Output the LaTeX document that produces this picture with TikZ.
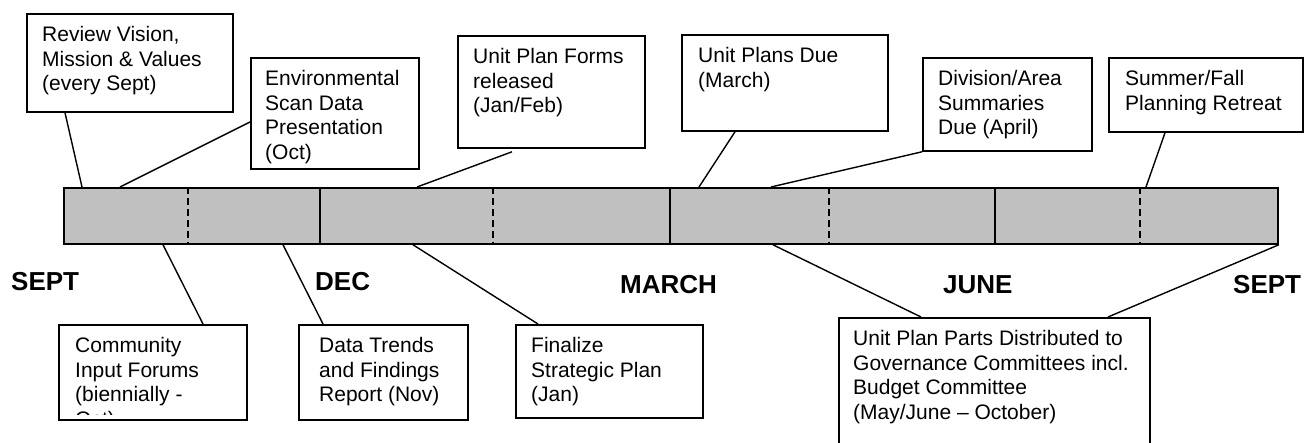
\documentclass[tikz,border=0pt]{standalone}
\usepackage{fontspec}
\setmainfont{Liberation Sans}
\definecolor{barfill}{RGB}{192,192,192}

\begin{document}
\begin{tikzpicture}[
    x=1pt, y=-1pt,
    evbox/.style={rectangle, draw, line width=1.8pt, fill=white, anchor=north west, inner sep=0pt},
    evtext/.style={anchor=north west, align=left, inner sep=0pt, xshift=16pt, yshift=-12.9pt,
                   font=\fontsize{21}{24.8}\selectfont},
    month/.style={anchor=base west, inner sep=0pt, font=\fontsize{26}{30}\selectfont\bfseries},
    timebar/.style={rectangle, draw, line width=1.8pt, fill=barfill, anchor=north west, inner sep=0pt},
    link/.style={line width=1.4pt}
]
\fill[white] (0,0) rectangle (1304,443);
\useasboundingbox (0,0) rectangle (1304,443);

% the year bar
\node[timebar, minimum width=1214, minimum height=56] (bar) at (63,187) {};
\foreach \d in {257,607,932}
  \draw[link] ([xshift=\d pt]bar.north west) -- ([xshift=\d pt]bar.south west);
\foreach \d in {125,430,766,1077}
  \draw[link, dash pattern=on 7pt off 4pt] ([xshift=\d pt]bar.north west) -- ([xshift=\d pt]bar.south west);

% months
\node[month] (sept) at (11,290.5) {SEPT};
\node[month] (dec) at (315,290.5) {DEC};
\node[month] (march) at (620,294) {MARCH};
\node[month] (june) at (943,294) {JUNE};
\node[month] (septend) at (1233,294) {SEPT};

% boxes above the bar
\node[evbox, minimum width=206, minimum height=98] (vision) at (26,13) {};
\node[evtext] (visiontxt) at (vision.north west) {Review Vision,\\Mission \& Values\\(every Sept)};

\node[evbox, minimum width=168, minimum height=111] (envscan) at (250,57) {};
\node[evtext, xshift=-1pt] (envscantxt) at (envscan.north west) {Environmental\\Scan Data\\Presentation\\(Oct)};

\node[evbox, minimum width=187, minimum height=112] (forms) at (457,35) {};
\node[evtext] (formstxt) at (forms.north west) {Unit Plan Forms\\released\\(Jan/Feb)};

\node[evbox, minimum width=206, minimum height=96] (due) at (681,34) {};
\node[evtext, xshift=1pt] (duetxt) at (due.north west) {Unit Plans Due\\(March)};

\node[evbox, minimum width=169, minimum height=93] (division) at (922,57) {};
\node[evtext] (divisiontxt) at (division.north west) {Division/Area\\Summaries\\Due (April)};

\node[evbox, minimum width=194, minimum height=74] (retreat) at (1108,57) {};
\node[evtext, xshift=1pt] (retreattxt) at (retreat.north west) {Summer/Fall\\Planning Retreat};

% boxes below the bar
\node[evbox, minimum width=188, minimum height=95] (forums) at (58,324) {};
\begin{scope}
\clip (forums.north west) rectangle ([yshift=6pt]forums.south east);
\node[evtext, xshift=1pt] (forumstxt) at (forums.north west) {Community\\Input Forums\\(biennially -\\Oct)};
\end{scope}

\node[evbox, minimum width=169, minimum height=95] (trends) at (298,324) {};
\node[evtext, xshift=5pt] (trendstxt) at (trends.north west) {Data Trends\\and Findings\\Report (Nov)};

\node[evbox, minimum width=187, minimum height=93] (finalize) at (515,324) {};
\node[evtext] (finalizetxt) at (finalize.north west) {Finalize\\Strategic Plan\\(Jan)};

\node[evbox, minimum width=311, minimum height=145] (parts) at (838,317) {};
\node[evtext, xshift=-1pt] (partstxt) at (parts.north west) {Unit Plan Parts Distributed to\\Governance Committees incl.\\Budget Committee\\(May/June -- October)};

% connectors
\draw[link] ([xshift=39pt]vision.south west) -- ([xshift=19pt]bar.north west);
\draw[link] ([yshift=-65pt]envscan.north west) -- ([xshift=57pt]bar.north west);
\draw[link] ([xshift=55pt,yshift=-3pt]forms.south west) -- ([xshift=354pt]bar.north west);
\draw[link] ([xshift=54pt]due.south west) -- ([xshift=636pt]bar.north west);
\draw[link] (division.south west) -- ([xshift=708pt]bar.north west);
\draw[link] ([xshift=57pt]retreat.south west) -- ([xshift=1083pt]bar.north west);

\draw[link] ([xshift=145pt]forums.north west) -- ([xshift=100pt]bar.south west);
\draw[link] ([xshift=25pt]trends.north west) -- ([xshift=220pt]bar.south west);
\draw[link] ([xshift=23pt]finalize.north west) -- ([xshift=350pt]bar.south west);
\draw[link] ([xshift=83pt]parts.north west) -- ([xshift=710pt]bar.south west);
\draw[link] ([xshift=270pt]parts.north west) -- (bar.south east);

\end{tikzpicture}
\end{document}
